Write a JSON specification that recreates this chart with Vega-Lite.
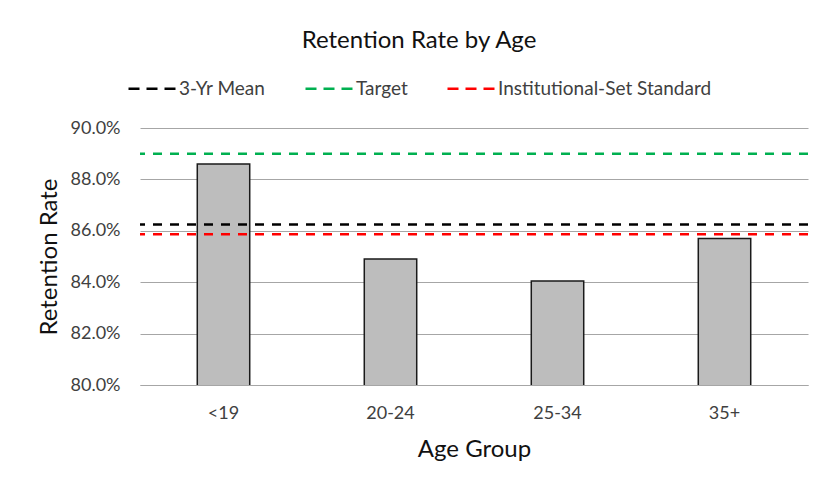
{
  "$schema": "https://vega.github.io/schema/vega-lite/v6.json",
  "width": 668,
  "height": 257,
  "autosize": {"type": "none"},
  "padding": {"left": 140, "top": 128, "right": 6, "bottom": 97},
  "background": "white",
  "title": {
    "text": "Retention Rate by Age",
    "anchor": "middle",
    "dx": -55,
    "offset": 10,
    "fontSize": 24,
    "font": "Lato",
    "fontWeight": "normal",
    "color": "#111111"
  },
  "config": {
    "view": {"stroke": null},
    "font": "Lato",
    "axis": {"labelFont": "Lato", "titleFont": "Lato"},
    "legend": {"labelFont": "Lato"}
  },
  "datasets": {
    "bars": [
      {"age": "<19", "rate": 0.886},
      {"age": "20-24", "rate": 0.849},
      {"age": "25-34", "rate": 0.8405},
      {"age": "35+", "rate": 0.857}
    ],
    "refs": [
      {"series": "3-Yr Mean", "value": 0.8625},
      {"series": "Target", "value": 0.890},
      {"series": "Institutional-Set Standard", "value": 0.8587}
    ]
  },
  "layer": [
    {
      "data": {"name": "bars"},
      "mark": {"type": "bar", "fill": "#bdbdbd", "stroke": "#1a1a1a", "strokeWidth": 1.5, "clip": true},
      "encoding": {
        "x": {
          "field": "age",
          "type": "nominal",
          "sort": ["<19", "20-24", "25-34", "35+"],
          "scale": {"paddingInner": 0.686, "paddingOuter": 0.343},
          "axis": {
            "title": "Age Group",
            "titleFontSize": 24,
            "titleFontWeight": "normal",
            "titleColor": "#111111",
            "titlePadding": 15,
            "labelAngle": 0,
            "labelFontSize": 18,
            "labelColor": "#404040",
            "labelPadding": 19,
            "ticks": false,
            "domain": true,
            "domainColor": "#a6a6a6",
            "domainWidth": 1
          }
        },
        "y": {
          "field": "rate",
          "type": "quantitative",
          "scale": {"domain": [0.8, 0.9], "zero": false, "nice": false},
          "axis": {
            "title": "Retention Rate",
            "titleFontSize": 24,
            "titleFontWeight": "normal",
            "titleColor": "#111111",
            "titlePadding": 9,
            "format": ".1%",
            "values": [0.8, 0.82, 0.84, 0.86, 0.88, 0.9],
            "labelFontSize": 18,
            "labelColor": "#404040",
            "labelPadding": 20,
            "ticks": false,
            "domain": false,
            "grid": true,
            "gridColor": "#a6a6a6",
            "gridWidth": 1
          }
        }
      }
    },
    {
      "data": {"name": "refs"},
      "mark": {"type": "rule", "strokeDash": [9, 8], "strokeWidth": 2.5},
      "encoding": {
        "y": {"field": "value", "type": "quantitative"},
        "color": {
          "field": "series",
          "type": "nominal",
          "scale": {
            "domain": ["3-Yr Mean", "Target", "Institutional-Set Standard"],
            "range": ["#000000", "#00b050", "#ff0000"]
          },
          "legend": {
            "title": null,
            "orient": "none",
            "direction": "horizontal",
            "legendX": -13,
            "legendY": -65,
            "symbolType": "stroke",
            "symbolSize": 2304,
            "symbolStrokeWidth": 2.5,
            "symbolDash": [11, 7],
            "labelFontSize": 19,
            "labelLimit": 400,
            "labelColor": "#404040",
            "labelOffset": 1,
            "columnPadding": 34
          }
        }
      }
    }
  ]
}
